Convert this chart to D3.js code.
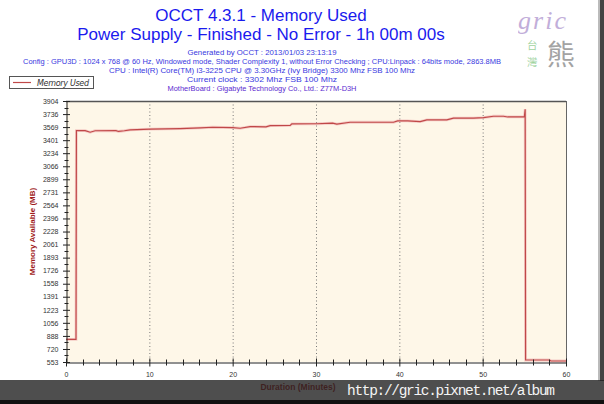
<!DOCTYPE html>
<html><head><meta charset="utf-8">
<script src="https://cdn.jsdelivr.net/npm/d3@7"></script>
<style>body{margin:0;background:#fff;}svg{display:block;}</style>
</head><body>
<script>
const titleLines = ["OCCT 4.3.1 - Memory Used", "Power Supply - Finished - No Error - 1h 00m 00s"];
const infoLines = [
  "Generated by OCCT : 2013/01/03 23:13:19",
  "Config : GPU3D : 1024 x 768 @ 60 Hz, Windowed mode, Shader Complexity 1, without Error Checking ; CPU:Linpack : 64bits mode, 2863.8MB",
  "CPU : Intel(R) Core(TM) i3-3225 CPU @ 3.30GHz (Ivy Bridge) 3300 Mhz FSB 100 Mhz",
  "Current clock : 3302 Mhz FSB 100 Mhz",
  "MotherBoard : Gigabyte Technology Co., Ltd.: Z77M-D3H"
];
const seriesName = "Memory Used";
const yTickLabels = [553, 720, 888, 1056, 1223, 1391, 1558, 1726, 1893, 2061, 2228, 2396, 2564, 2731, 2899, 3066, 3234, 3401, 3569, 3736, 3904];
const xTickLabels = [0, 10, 20, 30, 40, 50, 60];
const minutes = [0, 1.2, 1.25, 2.3, 2.9, 3.5, 6.0, 6.3, 7.0, 7.7, 10.1, 13.7, 16.1, 17.6, 20.0, 20.9, 22.1, 24.0, 24.5, 26.9, 27.1, 30.1, 32.0, 32.5, 34.1, 39.3, 39.8, 41.0, 42.5, 43.3, 45.7, 46.5, 48.9, 50.1, 51.3, 52.5, 53.0, 55.0, 55.1, 55.15, 58.0, 58.2, 60];
const memoryMB = [844, 844, 3524, 3524, 3503, 3522, 3524, 3513, 3522, 3533, 3542, 3549, 3558, 3567, 3562, 3554, 3575, 3572, 3588, 3590, 3610, 3612, 3619, 3608, 3631, 3631, 3648, 3648, 3640, 3661, 3661, 3683, 3683, 3690, 3708, 3708, 3699, 3699, 3798, 579, 579, 566, 566];
const yAxisTitle = "Memory Available (MB)";
const xAxisTitle = "Duration (Minutes)";
const footerText = "http://gric.pixnet.net/album";
const watermarkCJK = ["台", "灣", "熊"];

const W = 604, H = 404;
const svg = d3.select("body").append("svg").attr("width", W).attr("height", H);
const sans = "'Liberation Sans', Arial, sans-serif";

const x = d3.scaleLinear().domain([0, 60]).range([66, 566]);
const y = d3.scaleLinear().domain([553, 3904]).range([362, 101]);

// plot background
svg.append("rect").attr("x", x(0)).attr("y", y(3904)).attr("width", x(60) - x(0)).attr("height", y(553) - y(3904)).attr("fill", "#fef7e8");

// watermark (drawn behind text)
svg.append("text").attr("x", 518).attr("y", 29).attr("font-family", "'Liberation Serif', serif").attr("font-style", "italic").attr("font-size", 26).attr("textLength", 48).attr("fill", "#bba6d6").attr("opacity", 0.9).text("gric");
svg.append("text").attr("x", 527).attr("y", 48.5).attr("font-family", "'Noto Sans CJK TC', sans-serif").attr("font-size", 10.5).attr("fill", "#9fd49f").text(watermarkCJK[0]);
svg.append("text").attr("x", 527).attr("y", 65.5).attr("font-family", "'Noto Sans CJK TC', sans-serif").attr("font-size", 10.5).attr("fill", "#9fd49f").text(watermarkCJK[1]);
svg.append("text").attr("x", 547).attr("y", 65).attr("font-family", "'Noto Sans CJK TC', sans-serif").attr("font-size", 28).attr("fill", "#9a9a9a").attr("opacity", 0.9).text(watermarkCJK[2]);

// titles
const tcx = 261;
svg.append("text").attr("x", tcx).attr("y", 21).attr("text-anchor", "middle").attr("font-family", sans).attr("font-size", 17).attr("fill", "#1a1aee").text(titleLines[0]);
svg.append("text").attr("x", tcx).attr("y", 40).attr("text-anchor", "middle").attr("font-family", sans).attr("font-size", 17).attr("fill", "#1a1aee").text(titleLines[1]);
const infoY = [55, 64, 73, 82, 91];
const infoW = [149, 478, 306, 150, 189];
infoLines.forEach((t, i) => {
  svg.append("text").attr("x", 262).attr("y", infoY[i]).attr("text-anchor", "middle").attr("font-family", sans).attr("font-size", 7.4)
    .attr("textLength", infoW[i]).attr("lengthAdjust", "spacingAndGlyphs")
    .attr("fill", i === 4 ? "#5a2ad0" : "#3838e0").text(t);
});

// legend
const lg = svg.append("g");
lg.append("rect").attr("x", 9.5).attr("y", 76.5).attr("width", 84).attr("height", 12).attr("fill", "#fff").attr("stroke", "#555");
lg.append("line").attr("x1", 13).attr("x2", 31).attr("y1", 82.5).attr("y2", 82.5).attr("stroke", "#c04848").attr("stroke-width", 1.2);
lg.append("text").attr("x", 37).attr("y", 85.5).attr("font-family", "'DejaVu Sans', sans-serif").attr("font-style", "italic").attr("font-size", 8).attr("textLength", 52).attr("fill", "#333").text(seriesName);

// gridlines
svg.append("g").selectAll("line").data(xTickLabels.filter(d => d > 0 && d < 60)).join("line")
  .attr("x1", d => x(d) + 0.5).attr("x2", d => x(d) + 0.5).attr("y1", y(3904)).attr("y2", y(553))
  .attr("stroke", "#777").attr("stroke-dasharray", "1,2.5");

// border top/right
svg.append("line").attr("x1", x(0)).attr("x2", x(60)).attr("y1", y(3904) + 0.5).attr("y2", y(3904) + 0.5).attr("stroke", "#555").attr("stroke-width", 1.3);
svg.append("line").attr("x1", x(60) + 0.5).attr("x2", x(60) + 0.5).attr("y1", y(3904)).attr("y2", y(553)).attr("stroke", "#666");

// series line
const line = d3.line().x((d, i) => x(minutes[i])).y(d => y(d));
svg.append("path").datum(memoryMB).attr("d", line).attr("fill", "none").attr("stroke", "#f0b0b0").attr("stroke-width", 2.8).attr("opacity", 0.6);
svg.append("path").datum(memoryMB).attr("d", line).attr("fill", "none").attr("stroke", "#c04848").attr("stroke-width", 1.2);

// y axis
const yMinor = yTickLabels.slice(0, -1).map((d, i) => (d + yTickLabels[i + 1]) / 2);
const yAxis = d3.axisLeft(y).tickValues(yTickLabels).tickFormat(d3.format("d")).tickSizeInner(4).tickSizeOuter(0).tickPadding(4);
const gy = svg.append("g").attr("transform", `translate(${x(0) + 0.5},0)`).call(yAxis);
gy.selectAll(".tick line").attr("x2", -3.5).attr("x1", 3.5).attr("stroke", "#222");
gy.select(".domain").attr("stroke", "#222");
gy.selectAll("text").attr("font-family", sans).attr("font-size", 7).attr("fill", "#333").attr("x", -8);
gy.append("g").selectAll("line").data(yMinor).join("line").attr("x1", -2).attr("x2", 2).attr("y1", d => Math.round(y(d)) + 0.5).attr("y2", d => Math.round(y(d)) + 0.5).attr("stroke", "#222");

// x axis
const xMinor = d3.range(2, 60, 2).filter(d => d % 10 !== 0);
const xAxis = d3.axisBottom(x).tickValues(xTickLabels).tickFormat(d3.format("d")).tickSizeInner(4).tickSizeOuter(0).tickPadding(6);
const gx = svg.append("g").attr("transform", `translate(0,${y(553) + 0.5})`).call(xAxis);
gx.selectAll(".tick line").attr("y1", -4).attr("y2", 4).attr("stroke", "#222");
gx.select(".domain").attr("stroke", "#222");
gx.selectAll("text").attr("font-family", sans).attr("font-size", 7).attr("fill", "#333");
gx.append("g").selectAll("line").data(xMinor).join("line").attr("x1", d => Math.round(x(d)) + 0.5).attr("x2", d => Math.round(x(d)) + 0.5).attr("y1", -3).attr("y2", 3).attr("stroke", "#222");

// axis titles
svg.append("text").attr("transform", `translate(35,${(y(553) + y(3904)) / 2}) rotate(-90)`).attr("text-anchor", "middle")
  .attr("font-family", sans).attr("font-weight", "bold").attr("font-size", 8).attr("fill", "#a01c1c").text(yAxisTitle);
svg.append("text").attr("x", 298).attr("y", 390).attr("text-anchor", "middle")
  .attr("font-family", sans).attr("font-weight", "bold").attr("font-size", 8.5).attr("fill", "#b01c1c").text(xAxisTitle);

// right shadow
svg.append("rect").attr("x", 598).attr("y", 0).attr("width", 2).attr("height", 381).attr("fill", "#bbb");
svg.append("rect").attr("x", 600).attr("y", 0).attr("width", 4).attr("height", 381).attr("fill", "#444");
// bottom bar (semi-transparent over axis title)
svg.append("rect").attr("x", 0).attr("y", 380).attr("width", W).attr("height", 24).attr("fill", "#222").attr("opacity", 0.8);
svg.append("rect").attr("x", 0).attr("y", 400).attr("width", W).attr("height", 4).attr("fill", "#111");
svg.append("text").attr("x", 347).attr("y", 395).attr("font-family", "'Liberation Mono', monospace").attr("font-size", 14.5).attr("textLength", 208).attr("fill", "#f4f4f4").text(footerText);
</script>
</body></html>
